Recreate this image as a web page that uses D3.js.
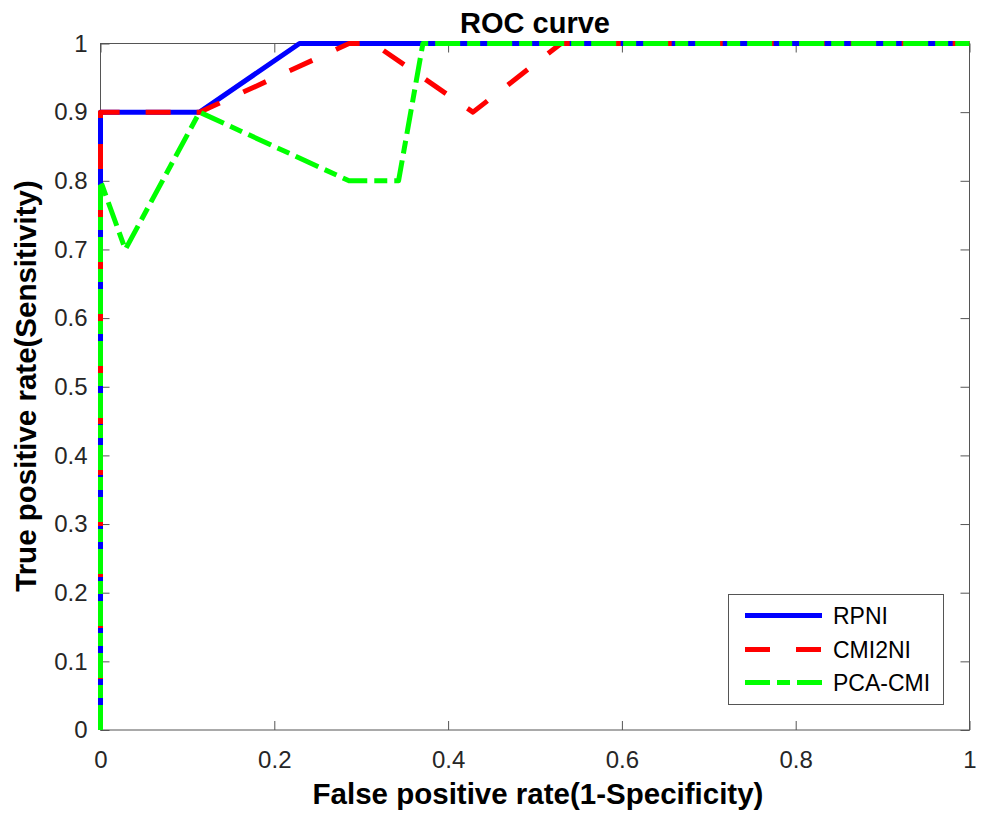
<!DOCTYPE html>
<html><head><meta charset="utf-8">
<script src="https://cdn.jsdelivr.net/npm/d3@7"></script>
<style>body{margin:0;background:#fff}</style>
</head><body>
<svg id="c" width="981" height="813"></svg>
<script>
const seriesNames = ["RPNI", "CMI2NI", "PCA-CMI"];
const rpniFPR = [0, 0, 0.114, 0.229, 1];
const rpniTPR = [0, 0.9, 0.9, 1, 1];
const cmiFPR = [0, 0, 0.114, 0.286, 0.314, 0.4286, 0.53, 1];
const cmiTPR = [0, 0.9, 0.9, 1, 1, 0.9, 1, 1];
const pcaFPR = [0, 0, 0.0286, 0.114, 0.286, 0.343, 0.371, 1];
const pcaTPR = [0, 0.8, 0.7, 0.9, 0.8, 0.8, 1, 1];
const xTicks = [0, 0.2, 0.4, 0.6, 0.8, 1];
const yTicks = [0, 0.1, 0.2, 0.3, 0.4, 0.5, 0.6, 0.7, 0.8, 0.9, 1];

const svg = d3.select("#c");
const L = 100.5, R = 969.5, T = 43.5, B = 730;
const x = d3.scaleLinear().domain([0, 1]).range([L, R]);
const y = d3.scaleLinear().domain([0, 1]).range([B, T]);
const axisColor = "#262626";
const font = "'Liberation Sans', Arial, Helvetica, sans-serif";

// box
svg.append("rect").attr("x", L).attr("y", T).attr("width", R - L).attr("height", B - T)
  .attr("fill", "none").attr("stroke", "#555").attr("stroke-width", 1);

const tl = 9;
const gx = svg.append("g").attr("transform", `translate(0,${B})`)
  .call(d3.axisBottom(x).tickValues(xTicks).tickFormat(d3.format("")).tickSizeInner(-tl).tickSizeOuter(0).tickPadding(21));
const gxt = svg.append("g").attr("transform", `translate(0,${T})`)
  .call(d3.axisTop(x).tickValues(xTicks).tickFormat("").tickSizeInner(-tl).tickSizeOuter(0));
const gy = svg.append("g").attr("transform", `translate(${L},0)`)
  .call(d3.axisLeft(y).tickValues(yTicks).tickFormat(d3.format("")).tickSizeInner(-tl).tickSizeOuter(0).tickPadding(13));
const gyr = svg.append("g").attr("transform", `translate(${R},0)`)
  .call(d3.axisRight(y).tickValues(yTicks).tickFormat("").tickSizeInner(-tl).tickSizeOuter(0));
[gx, gxt, gy, gyr].forEach(g => {
  g.select(".domain").remove();
  g.selectAll("line").attr("stroke", "#555");
  g.selectAll("text").attr("fill", axisColor).style("font-family", font).style("font-size", "24px");
});

const lines = [
  {fx: rpniFPR, ty: rpniTPR, color: "#0000ff", dash: null},
  {fx: cmiFPR, ty: cmiTPR, color: "#ff0000", dash: "25,26"},
  {fx: pcaFPR, ty: pcaTPR, color: "#00ff00", dash: "25,7,13,7"}
];
const lineGen = d3.line().x(d => x(d[0])).y(d => y(d[1]));
lines.forEach(s => {
  const pts = s.fx.map((v, i) => [v, s.ty[i]]);
  svg.append("path").attr("d", lineGen(pts)).attr("fill", "none")
    .attr("stroke", s.color).attr("stroke-width", 5)
    .attr("stroke-dasharray", s.dash).attr("stroke-linejoin", "round");
});

// title & labels
svg.append("text").attr("x", (L + R) / 2).attr("y", 33).attr("text-anchor", "middle")
  .style("font-family", font).style("font-weight", "bold").style("font-size", "29px").attr("fill", "#000").text("ROC curve");
svg.append("text").attr("x", (L + R) / 2 + 3).attr("y", 804).attr("text-anchor", "middle")
  .style("font-family", font).style("font-weight", "bold").style("font-size", "29.5px").attr("fill", "#000").text("False positive rate(1-Specificity)");
svg.append("text").attr("transform", `translate(36,386) rotate(-90)`).attr("text-anchor", "middle")
  .style("font-family", font).style("font-weight", "bold").style("font-size", "29.5px").attr("fill", "#000").text("True positive rate(Sensitivity)");

// legend
const lg = svg.append("g");
lg.append("rect").attr("x", 728.5).attr("y", 594.5).attr("width", 215).attr("height", 110)
  .attr("fill", "#fff").attr("stroke", "#555").attr("stroke-width", 1);
const ly = [615.5, 649.5, 682.5];
lines.forEach((s, i) => {
  lg.append("line").attr("x1", 745).attr("x2", 822).attr("y1", ly[i]).attr("y2", ly[i])
    .attr("stroke", s.color).attr("stroke-width", 5).attr("stroke-dasharray", s.dash);
  lg.append("text").attr("x", 833).attr("y", ly[i] + 8).style("font-family", font).style("font-size", "23px")
    .attr("fill", "#000").text(seriesNames[i]);
});
</script>
</body></html>
